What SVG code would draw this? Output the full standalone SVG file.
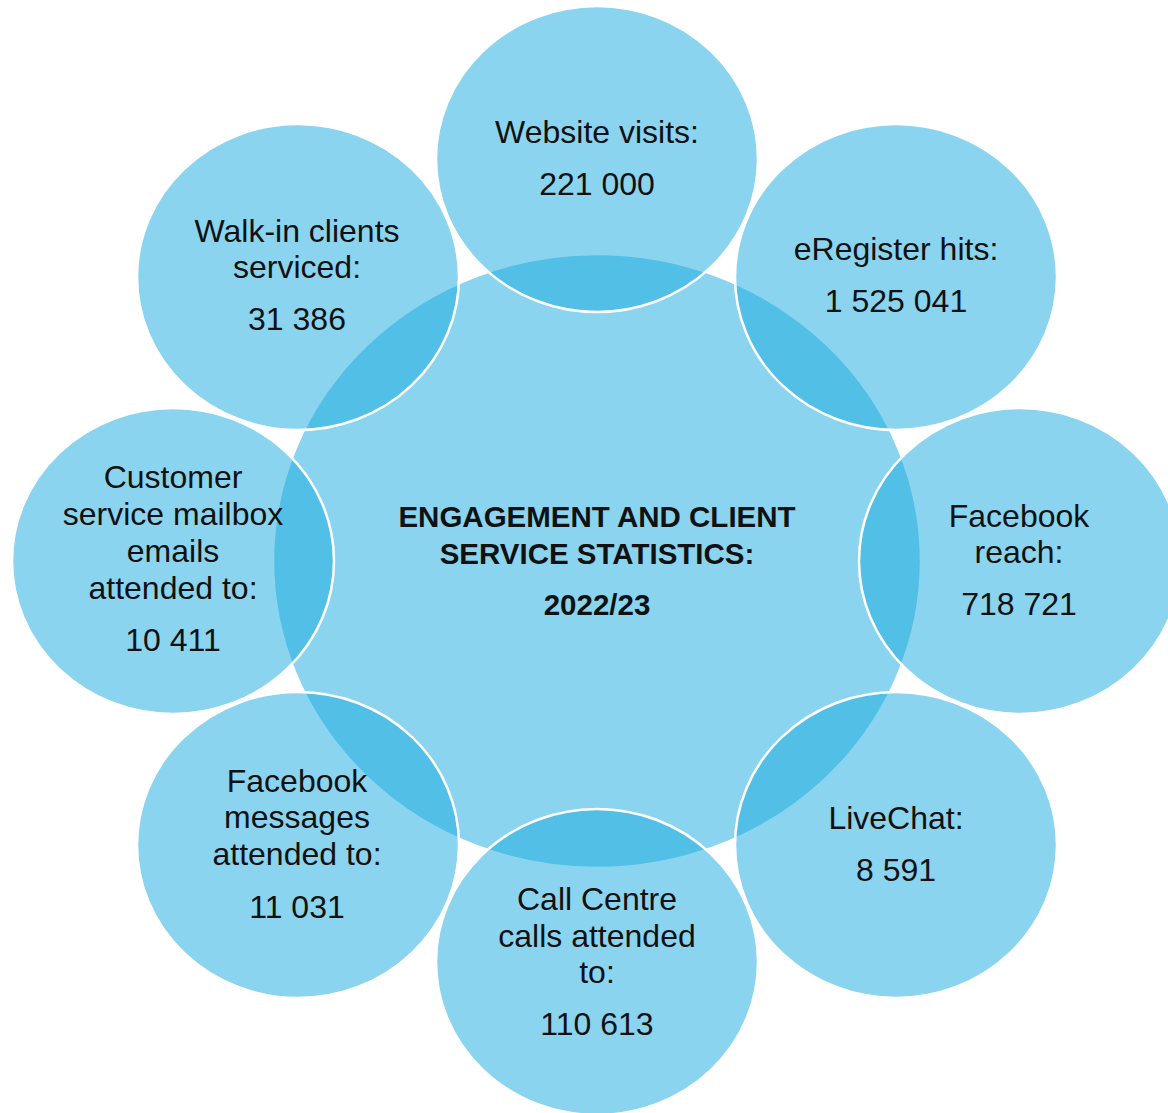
<svg xmlns="http://www.w3.org/2000/svg" width="1168" height="1113" viewBox="0 0 1168 1113">
  <style>
    .bubble { fill: rgb(27,170,224); fill-opacity: 0.51; stroke: #ffffff; stroke-width: 2.5; }
    .lbl { font-family: "Liberation Sans", Arial, sans-serif; font-size: 32px; fill: #111111; text-anchor: middle; }
    .title { font-family: "Liberation Sans", Arial, sans-serif; font-size: 29.5px; font-weight: bold; fill: #111111; text-anchor: middle; }
  </style>
  <rect x="0" y="0" width="1168" height="1113" fill="#ffffff"/>

  <g id="center">
    <ellipse class="bubble" cx="597" cy="561" rx="324" ry="307"/>
    <text class="title" x="597" y="527">ENGAGEMENT AND CLIENT</text>
    <text class="title" x="597" y="564">SERVICE STATISTICS:</text>
    <text class="title" x="597" y="615">2022/23</text>
  </g>

  <g id="website">
    <ellipse class="bubble" cx="597" cy="159" rx="161" ry="153"/>
    <text class="lbl" x="597" y="143">Website visits:</text>
    <text class="lbl" x="597" y="195">221 000</text>
  </g>

  <g id="eregister">
    <ellipse class="bubble" cx="896" cy="277" rx="161" ry="153"/>
    <text class="lbl" x="896" y="260">eRegister hits:</text>
    <text class="lbl" x="896" y="312">1 525 041</text>
  </g>

  <g id="facebook-reach">
    <ellipse class="bubble" cx="1020" cy="561" rx="161" ry="153"/>
    <text class="lbl" x="1019" y="527">Facebook</text>
    <text class="lbl" x="1019" y="563">reach:</text>
    <text class="lbl" x="1019" y="615">718 721</text>
  </g>

  <g id="livechat">
    <ellipse class="bubble" cx="896" cy="845" rx="161" ry="153"/>
    <text class="lbl" x="896" y="829">LiveChat:</text>
    <text class="lbl" x="896" y="881">8 591</text>
  </g>

  <g id="call-centre">
    <ellipse class="bubble" cx="597" cy="962" rx="161" ry="153"/>
    <text class="lbl" x="597" y="910">Call Centre</text>
    <text class="lbl" x="597" y="947">calls attended</text>
    <text class="lbl" x="597" y="983">to:</text>
    <text class="lbl" x="597" y="1035">110 613</text>
  </g>

  <g id="facebook-messages">
    <ellipse class="bubble" cx="298" cy="845" rx="161" ry="153"/>
    <text class="lbl" x="297" y="792">Facebook</text>
    <text class="lbl" x="297" y="828">messages</text>
    <text class="lbl" x="297" y="865">attended to:</text>
    <text class="lbl" x="297" y="918">11 031</text>
  </g>

  <g id="customer-service">
    <ellipse class="bubble" cx="173" cy="561" rx="161" ry="153"/>
    <text class="lbl" x="173" y="488">Customer</text>
    <text class="lbl" x="173" y="525">service mailbox</text>
    <text class="lbl" x="173" y="562">emails</text>
    <text class="lbl" x="173" y="599">attended to:</text>
    <text class="lbl" x="173" y="651">10 411</text>
  </g>

  <g id="walk-in">
    <ellipse class="bubble" cx="298" cy="277" rx="161" ry="153"/>
    <text class="lbl" x="297" y="242">Walk-in clients</text>
    <text class="lbl" x="297" y="278">serviced:</text>
    <text class="lbl" x="297" y="330">31 386</text>
  </g>
</svg>
